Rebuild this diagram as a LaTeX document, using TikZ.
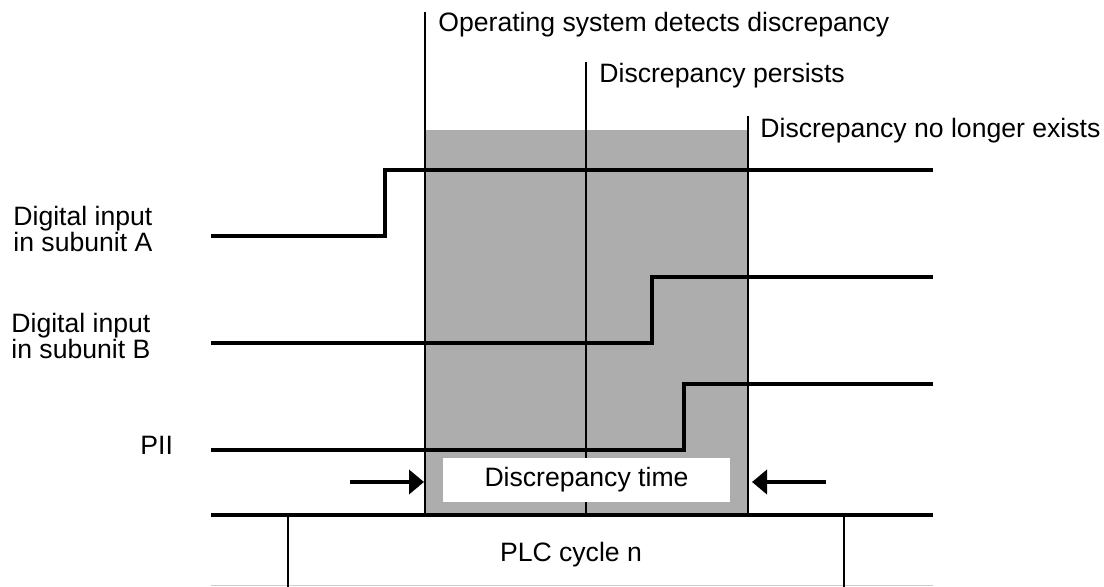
\documentclass[tikz,border=0pt]{standalone}
\usepackage{fontspec}
\setmainfont{Liberation Sans}
\usetikzlibrary{arrows.meta}

\tikzset{
  signal/.style={line width=2.2pt},
  marker/.style={line width=0.75pt},
  lab/.style={font=\fontsize{13.3}{13}\selectfont, inner sep=0pt},
  gap/.style={line width=2pt, -{Triangle[length=7.5pt,width=12pt]}},
}

\begin{document}
\begin{tikzpicture}[x=0.5pt, y=-0.5pt]
	\useasboundingbox (0,0) rectangle (1104,587);

	% window of the discrepancy
	\fill[black!32] (426,130) rectangle (748,516);
	\foreach \x/\t in {425/12, 586/62, 748/116} {
		\draw[marker] (\x,\t) -- (\x,516);
	}

	\node[lab, anchor=base west] (detect) at (438,32) {Operating system detects discrepancy};
	\node[lab, anchor=base west] (persist) at (599,83) {Discrepancy persists};
	\node[lab, anchor=base west] (gone) at (760,138) {Discrepancy no longer exists};

	\node[lab, anchor=west, align=left] (inA) at (13,229) {Digital input\\in subunit A};
	\node[lab, anchor=west, align=left] (inB) at (11,336) {Digital input\\in subunit B};
	\node[lab, anchor=base west] (pii) at (140,455) {PII};

	\node[lab, fill=white, minimum width=143.5pt, minimum height=22pt] (dtime) at (586.5,480) {Discrepancy time};

	\foreach \lo/\up in {236/385, 343/652, 450/684} {
		\draw[signal] (211,\lo) -| (\up,\lo-66) -- (933,\lo-66);
	}

	\coordinate (la) at (350,482);
	\coordinate (lb) at (424,482);
	\coordinate (ra) at (826,482);
	\coordinate (rb) at (752,482);
	\draw[gap] (la) -- (lb);
	\draw[gap] (ra) -- (rb);

	% PLC cycle
	\draw[signal] (211,515) -- (933,515);
	\draw[gray!40, line width=0.5pt] (211,586) -- (933,586);
	\draw[marker] (288,516) -- (288,587);
	\draw[marker] (844,516) -- (844,587);
	\node[lab, anchor=base] (cycle) at (571,562) {PLC cycle n};
\end{tikzpicture}
\end{document}
